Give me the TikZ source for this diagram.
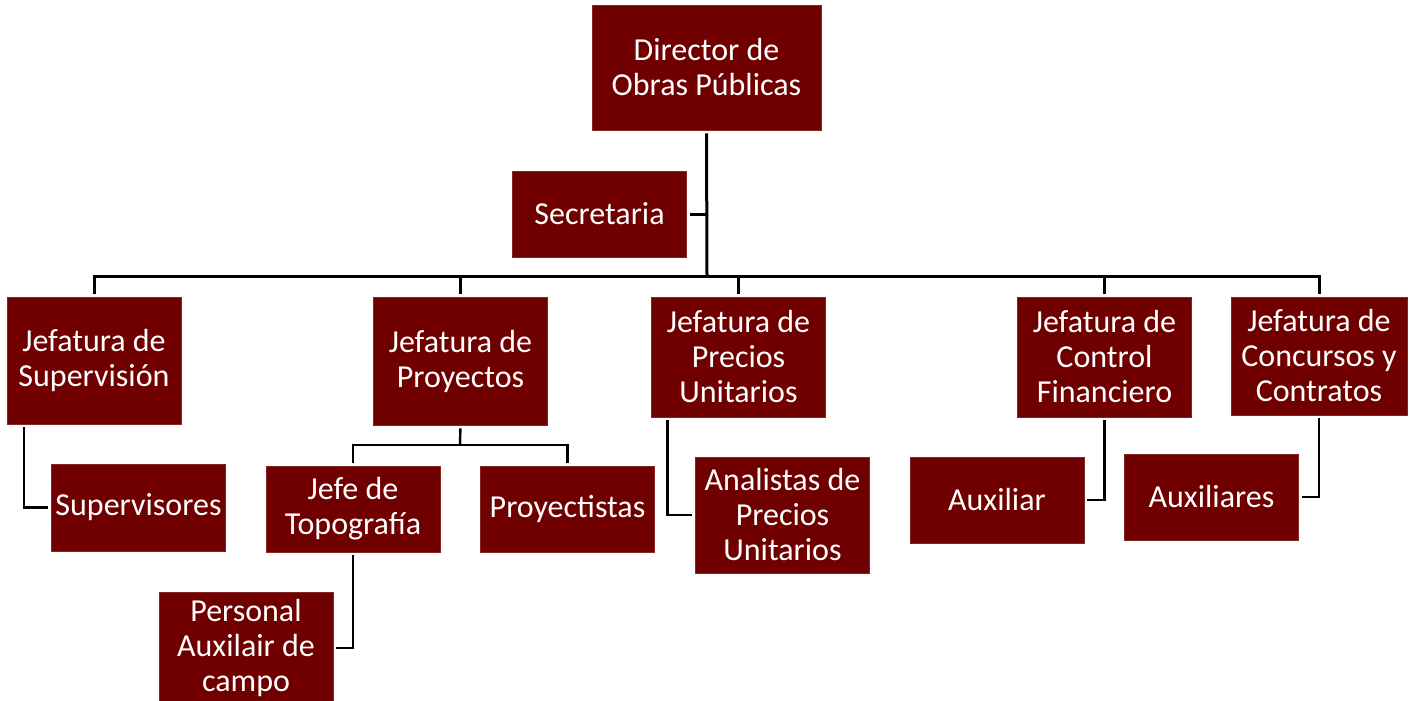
\documentclass[tikz,border=0pt]{standalone}
\usepackage{fontspec}
\setmainfont{Carlito}
\usepackage{tikz}
\usetikzlibrary{arrows.meta}
\usepackage{xcolor}
\definecolor{ColBox}{RGB}{112,0,0}
\definecolor{ColLine}{RGB}{0,0,0}
\tikzstyle{BoxOrg}=[rectangle,fill=ColBox,draw=ColBox!85!white,line width=0.4pt,text=white,
align=center,inner sep=1pt,minimum width=87pt,font=\fontsize{16}{17.5}\selectfont]
\tikzstyle{EdgeMain}=[ColLine,line width=1.5pt,shorten <=1.5pt]
\tikzstyle{EdgeSub}=[ColLine,line width=1.2pt,shorten <=1.5pt]
\tikzstyle{ToBox}=[shorten >=1.5pt]

\begin{document}
\begin{tikzpicture}[x=0.5pt,y=-0.5pt]
        \useasboundingbox(0,0)rectangle(1409,701);
        \node[BoxOrg,minimum width=114.5pt,minimum height=62.5pt](dir)at(706.5,67.5){Director de\\Obras Públicas};
        \node[BoxOrg,minimum height=43pt](sec)at(599.5,214){Secretaria};
        \node[BoxOrg,minimum height=63.5pt](sup)at(94,360.5){Jefatura de\\Supervisión};
        \node[BoxOrg,minimum height=64pt](proy)at(460.5,361){Jefatura de\\Proyectos};
        \node[BoxOrg,minimum height=60pt](pre)at(738.5,357){Jefatura de\\Precios\\Unitarios};
        \node[BoxOrg,minimum height=60pt](ctl)at(1104.5,357){Jefatura de\\Control\\Financiero};
        \node[BoxOrg,minimum width=88pt,minimum height=59pt](con)at(1319,356){Jefatura de\\Concursos y\\Contratos};
        \node[BoxOrg,minimum height=43.5pt](svs)at(138.5,507.5){Supervisores};
        \node[BoxOrg,minimum height=43pt](top)at(353,509){Jefe de\\Topografía};
        \node[BoxOrg,minimum height=43pt](pyt)at(567.5,509){Proyectistas};
        \node[BoxOrg,minimum height=56pt](pac)at(246,648){Personal\\Auxilair de\\campo};
        \node[BoxOrg,minimum height=58pt](ana)at(782.5,515){Analistas de\\Precios\\Unitarios};
        \node[BoxOrg,minimum height=43pt](aux)at(997,500){Auxiliar};
        \node[BoxOrg,minimum height=43pt](auxs)at(1211.5,497){Auxiliares};
        \coordinate(bar)at(707,276);
        \coordinate(pbar)at(460,445);
        \draw[EdgeMain](dir.south)--(bar);
        \draw[EdgeMain](sec.east)--(sec.east-|bar);
        \draw[EdgeMain,ToBox](sup.north)|-(bar)-|(con.north);
        \draw[EdgeMain](proy.north)--(proy.north|-bar);
        \draw[EdgeMain](pre.north)--(pre.north|-bar);
        \draw[EdgeMain](ctl.north)--(ctl.north|-bar);
        \draw[EdgeSub,ToBox]([xshift=-35pt]sup.south)|-(svs.west);
        \draw[EdgeSub](proy.south)--(pbar);
        \draw[EdgeSub,ToBox](top.north)|-(pbar)-|(pyt.north);
        \draw[EdgeSub,ToBox](top.south)|-(pac.east);
        \draw[EdgeSub,ToBox]([xshift=-35.5pt]pre.south)|-(ana.west);
        \draw[EdgeSub,ToBox](ctl.south)|-(aux.east);
        \draw[EdgeSub,ToBox](con.south)|-(auxs.east);
    \end{tikzpicture}
\end{document}
